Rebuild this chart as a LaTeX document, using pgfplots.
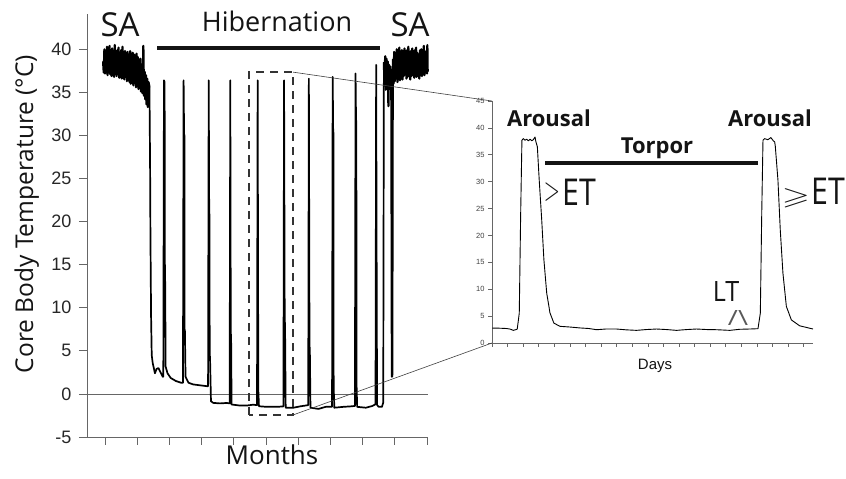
\documentclass[border=0pt]{standalone}
\usepackage{pgfplots}
\pgfplotsset{compat=1.18}
\usepackage{amssymb}
\usepackage{fontspec}
\setmainfont{Open Sans}
\newfontfamily\arial{Liberation Sans}
\definecolor{axgray}{HTML}{666666}
\definecolor{txt}{HTML}{141414}
\begin{document}
\begin{tikzpicture}
\useasboundingbox (0pt,0pt) rectangle (846pt,479pt);
% ---------------- main axis ----------------
\begin{axis}[
  at={(87pt,42pt)}, anchor=south west, scale only axis,
  width=341pt, height=423pt,
  xmin=-0.56, xmax=10.03, ymin=-5, ymax=44.1,
  axis x line*=bottom, axis y line*=left,
  axis line style={-, draw=axgray, line width=0.8pt},
  tick style={draw=axgray, line width=0.8pt},
  tick align=outside,
  major tick length=8pt,
  xtick={0,...,10}, xticklabels={},
  ytick={-5,0,5,10,15,20,25,30,35,40},
  /pgf/number format/assume math mode=true,
  yticklabel style={font=\arial\fontsize{18}{18}\selectfont, text=black!85, xshift=-4pt},
  clip=false,
]
\addplot[axgray, line width=0.7pt] coordinates {(-0.56,0) (10.03,0)};
% summer-active band (left)
\addplot[black, line width=2.2pt, line join=round] coordinates {
(-0.06,38.6) (-0.04,37.3) (-0.02,40.0) (0.00,37.2) (0.02,39.6) (0.04,37.6) (0.06,40.3) (0.08,37.0) (0.10,39.8)
(0.12,37.5) (0.14,40.4) (0.16,37.1) (0.18,39.5) (0.20,36.9) (0.22,40.1) (0.24,37.4) (0.26,39.7) (0.28,36.8)
(0.30,40.5) (0.32,37.2) (0.34,39.4) (0.36,36.9) (0.38,39.9) (0.40,37.3) (0.42,40.2) (0.44,36.7) (0.46,39.6)
(0.48,37.0) (0.50,39.9) (0.52,36.6) (0.54,40.3) (0.56,36.8) (0.58,39.4) (0.60,36.5) (0.62,39.8) (0.64,36.9)
(0.66,39.5) (0.68,36.3) (0.70,39.7) (0.72,36.6) (0.74,39.2) (0.76,36.2) (0.78,39.8) (0.80,36.0) (0.82,39.3)
(0.84,36.4) (0.86,39.6) (0.88,35.8) (0.90,39.4) (0.92,36.1) (0.94,38.9) (0.96,35.6) (0.98,39.5) (1.00,35.9)
(1.02,39.1) (1.04,35.4) (1.06,38.7) (1.08,35.7) (1.10,38.9) (1.12,35.1) (1.14,38.2) (1.16,34.9) (1.18,37.8)
(1.19,40.4) (1.21,34.6) (1.23,37.4) (1.25,34.2) (1.27,37.0) (1.29,33.6) (1.31,36.6) (1.33,33.3) (1.35,36.2)
(1.38,35.6)
};
% hibernation
\addplot[black, line width=1.7pt, line join=round] coordinates {
(1.38,35.6)
(1.40,26) (1.41,18.5) (1.43,9) (1.45,4.5) (1.48,3.6) (1.55,2.4) (1.60,2.9) (1.66,3.0) (1.71,2.6) (1.79,2.0)
(1.81,2.0) (1.83,36.4) (1.85,36.2) (1.86,13.2) (1.87,13) (1.88,3.2) (1.94,2.4) (2.04,1.85) (2.20,1.5) (2.36,1.3)
(2.42,1.3) (2.44,36.4) (2.455,30.2) (2.465,30) (2.47,7.5) (2.48,7.4) (2.50,2.0) (2.59,1.3) (2.74,1.1) (2.95,1.0) (3.16,0.9)
(3.20,0.9) (3.22,36.4) (3.235,21) (3.245,20.8) (3.25,4.5) (3.26,4.3) (3.29,-0.85) (3.36,-1.04) (3.57,-1.1) (3.78,-1.05) (3.87,-1.1)
(3.89,36.4) (3.905,7.0) (3.915,6.8) (3.93,-1.23) (4.19,-1.35) (4.40,-1.35) (4.60,-1.25) (4.72,-1.3)
(4.74,36.4) (4.76,0.5) (4.78,-1.43) (5.02,-1.5) (5.33,-1.5) (5.54,-1.45)
(5.56,36.4) (5.58,8.4) (5.59,8.2) (5.61,-1.6) (5.85,-1.6) (6.05,-1.45) (6.31,-1.3)
(6.33,36.6) (6.35,5.5) (6.36,5.3) (6.38,-1.6) (6.63,-1.74) (6.85,-1.5) (7.05,-1.5)
(7.07,36.8) (7.085,30.5) (7.095,30.3) (7.10,1.0) (7.12,-1.6) (7.40,-1.5) (7.61,-1.45) (7.76,-1.4)
(7.78,37.2) (7.795,31.8) (7.805,31.6) (7.81,1.3) (7.83,-1.5) (8.10,-1.6) (8.30,-1.4) (8.40,-1.2)
(8.42,38.2) (8.44,8) (8.45,-1.3) (8.50,-1.5) (8.60,-1.5) (8.64,-1.0)
(8.66,38.5)
};
% summer-active band (right)
\addplot[black, line width=2.2pt, line join=round] coordinates {
(8.66,38.5) (8.68,35.8) (8.70,39.2) (8.72,35.3) (8.74,38.9) (8.76,35.6) (8.78,38.6) (8.80,33.4) (8.82,38.2)
(8.84,35.7) (8.86,38.0) (8.88,35.5) (8.89,37.0)
(8.90,20) (8.91,2.0) (8.92,2.3) (8.93,30) (8.94,38.8) (8.96,36.0) (8.98,39.7) (9.00,36.3) (9.02,39.4)
(9.04,36.6) (9.06,40.0) (9.08,36.2) (9.10,39.5) (9.12,36.8) (9.14,40.2) (9.16,36.4) (9.18,39.6) (9.20,37.0)
(9.22,39.9) (9.24,36.5) (9.26,39.3) (9.28,36.9) (9.30,40.1) (9.32,37.2) (9.34,39.5) (9.36,36.6) (9.38,39.9)
(9.40,36.8) (9.42,40.3) (9.44,37.1) (9.46,39.4) (9.48,36.5) (9.50,39.8) (9.52,36.9) (9.54,40.1) (9.56,37.0)
(9.58,39.5) (9.60,36.7) (9.62,39.9) (9.64,37.2) (9.66,40.2) (9.68,36.8) (9.70,39.6) (9.72,37.1) (9.74,39.3)
(9.76,36.6) (9.78,39.9) (9.80,37.0) (9.82,40.0) (9.84,36.9) (9.86,39.5) (9.88,37.3) (9.90,40.4) (9.92,37.0)
(9.94,39.6) (9.96,37.4) (9.98,39.8) (10.00,37.2) (10.01,40.5) (10.02,37.4)
};
\draw[dash pattern=on 8pt off 6pt, line width=2.4pt, draw=black!80]
  (axis cs:4.47,-2.44) rectangle (axis cs:5.84,37.35);
\coordinate (bTR) at (axis cs:5.84,37.35);
\coordinate (bBR) at (axis cs:5.84,-2.44);
\end{axis}
% ---------------- inset axis ----------------
\begin{axis}[
  at={(492pt,136pt)}, anchor=south west, scale only axis,
  width=321pt, height=242pt,
  xmin=0, xmax=20.6, ymin=0, ymax=45,
  axis x line*=bottom, axis y line*=left,
  axis line style={-, draw=axgray, line width=0.6pt},
  tick style={draw=axgray, line width=0.6pt},
  tick align=outside,
  major tick length=4pt,
  xtick={0,...,20}, xticklabels={},
  ytick={0,5,...,45},
  /pgf/number format/assume math mode=true,
  yticklabel style={font=\arial\fontsize{7.5}{8}\selectfont, text=black!75},
  clip=false,
]
\addplot[black, line width=0.9pt, line join=round] coordinates {
(0.02,2.78) (0.5,2.75) (0.9,2.7) (1.15,2.6) (1.37,2.35) (1.55,2.5) (1.62,2.6) (1.75,5.56) (1.84,24.1)
(1.92,37.7) (2.01,38.0) (2.12,37.7) (2.22,37.9) (2.33,37.6) (2.44,37.9) (2.55,37.6) (2.65,37.8)
(2.76,38.3) (2.82,37.4) (2.91,36.5) (3.03,30.3) (3.19,22.9) (3.33,15.5) (3.51,9.3) (3.72,5.6)
(3.97,3.7) (4.36,3.1) (5.0,2.97) (5.64,2.8) (6.2,2.7) (6.71,2.47) (7.3,2.6) (7.99,2.6) (8.6,2.45)
(9.27,2.35) (9.9,2.5) (10.56,2.6) (11.2,2.5) (11.84,2.35) (12.5,2.5) (13.12,2.6) (13.8,2.5)
(14.4,2.47) (15.26,2.35) (15.9,2.55) (16.54,2.6) (17.07,2.66) (17.22,5.56) (17.31,24.1) (17.39,37.7)
(17.5,38.0) (17.7,37.8) (17.9,38.2) (18.05,37.6) (18.14,37.4) (18.18,36.6) (18.35,30.3) (18.5,21.0)
(18.67,13.0) (18.89,6.8) (19.21,4.3) (19.74,3.2) (20.6,2.6)
};
\coordinate (i45) at (axis cs:0,45);
\coordinate (i0) at (axis cs:0,0);
\end{axis}
% connectors
\draw[black!75, line width=0.6pt] (bTR) -- (i45);
\draw[black!75, line width=0.6pt] (bBR) -- (i0);
% bars
\draw[txt, line width=4pt] (157pt,431pt) -- (380pt,431pt);
\draw[txt, line width=4pt] (545pt,316pt) -- (758pt,316pt);
% labels
\node[txt, anchor=base, font=\fontsize{33}{33}\selectfont, inner sep=0pt] at (120pt,442pt) {SA};
\node[txt, anchor=base, font=\fontsize{33}{33}\selectfont, inner sep=0pt] at (410pt,442pt) {SA};
\node[txt, anchor=base, font=\fontsize{27}{27}\selectfont, inner sep=0pt] at (277pt,447pt) {Hibernation};
\node[txt, anchor=base, font=\fontsize{26}{26}\selectfont, inner sep=0pt] at (272pt,14pt) {Months};
\node[txt, anchor=base, rotate=90, font=\fontsize{24.5}{24.5}\selectfont, inner sep=0pt] at (33pt,265pt) {Core Body Temperature (°C)};
\node[txt, anchor=base, font=\bfseries\fontsize{22}{22}\selectfont, inner sep=0pt] at (549pt,352pt) {Arousal};
\node[txt, anchor=base, font=\bfseries\fontsize{22}{22}\selectfont, inner sep=0pt] at (770pt,352pt) {Arousal};
\node[txt, anchor=base, font=\bfseries\fontsize{22}{22}\selectfont, inner sep=0pt] at (657pt,325pt) {Torpor};
\node[txt, anchor=base, xscale=0.82, font=\fontsize{37}{37}\selectfont, inner sep=0pt] at (579pt,273pt) {ET};
\node[txt, anchor=base, xscale=0.82, font=\fontsize{37}{37}\selectfont, inner sep=0pt] at (828pt,274pt) {ET};
\node[txt, anchor=center, xscale=0.85, yscale=1.35, inner sep=0pt] at (552pt,287pt) {\Huge$>$};
\node[txt, anchor=center, xscale=1.45, yscale=1.0, inner sep=0pt] at (796pt,281pt) {\Huge$\geqslant$};
\node[txt, anchor=base, xscale=0.9, font=\fontsize{28}{28}\selectfont, inner sep=0pt] at (726pt,177pt) {LT};
\node[black!65, anchor=south, xscale=1.3, inner sep=0pt] at (738pt,153pt) {\fontsize{21}{21}\selectfont /\textbackslash};
\node[txt, anchor=base, font=\arial\fontsize{15}{15}\selectfont, inner sep=0pt] at (655pt,109pt) {Days};
\end{tikzpicture}
\end{document}
